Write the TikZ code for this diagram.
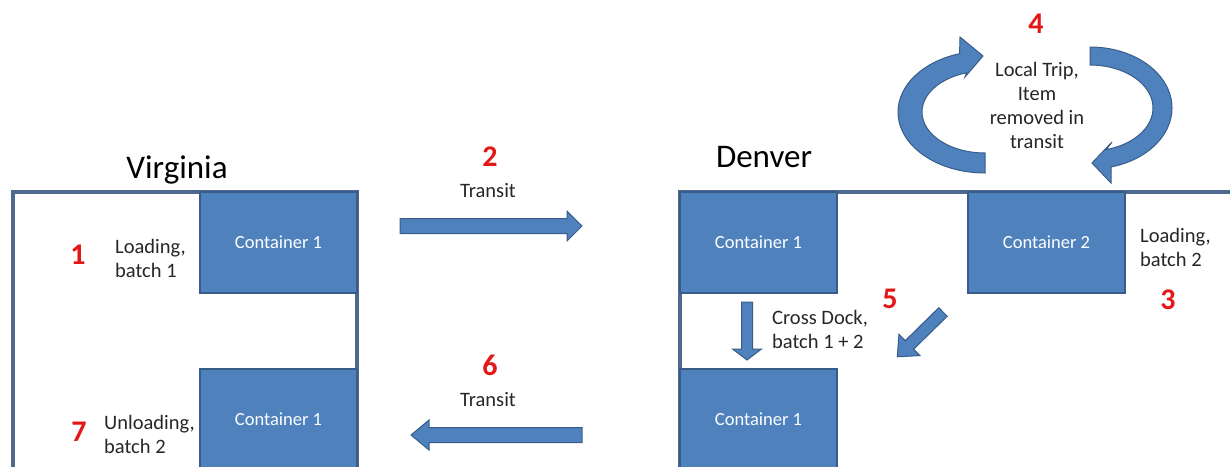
\documentclass[tikz,border=0pt]{standalone}
\usepackage{fontspec}
\setmainfont{Carlito}
\usetikzlibrary{calc}
\definecolor{boxblue}{RGB}{79,129,189}
\definecolor{boxedge}{RGB}{56,93,138}
\definecolor{wallc}{RGB}{78,106,145}
\definecolor{numred}{RGB}{228,22,22}
\definecolor{txt}{RGB}{38,38,38}
\newcommand{\blockarr}[7]{%
  \begin{scope}[shift={(#1,#2)},rotate=#3]
    \filldraw[barrow] (0,-#5) -- ({#4-#7},-#5) -- ({#4-#7},-#6) -- (#4,0)
      -- ({#4-#7},#6) -- ({#4-#7},#5) -- (0,#5) -- cycle;
  \end{scope}}
\begin{document}
\begin{tikzpicture}[x=1pt,y=-1pt,
  container/.style={draw=boxedge, line width=1.5pt, fill=boxblue, text=white,
    minimum width=157pt, minimum height=101pt, inner sep=0pt,
    font=\fontsize{18.5}{22}\selectfont},
  wall/.style={draw=wallc, line width=3.5pt},
  lbl/.style={text=txt, font=\fontsize{20.5}{24}\selectfont, align=left, inner sep=0pt},
  num/.style={text=numred, font=\bfseries\fontsize{30}{32}\selectfont, inner sep=0pt},
  title/.style={text=black, font=\fontsize{33}{36}\selectfont, inner sep=0pt},
  barrow/.style={fill=boxblue, draw=boxedge, line width=1pt, line join=miter}]
\useasboundingbox (0,0) rectangle (1230,466);
\clip (0,0) rectangle (1230,466);

% titles
\node[title, anchor=base] (virginia) at (177,178) {Virginia};
\node[title, anchor=base] (denver) at (764,167) {Denver};

% walls
\draw[wall] (13,480) -- (13,192) -- (357,192) -- (357,480);
\draw[wall] (680,480) -- (680,192) -- (1240,192);

% containers
\node[container] (vc1) at (278.5,242.5) {Container 1};
\node[container] (vc2) at (278.5,419.5) {Container 1};
\node[container] (dc1) at (758.5,242.5) {Container 1};
\node[container] (dc3) at (758.5,419.5) {Container 1};
\node[container] (dc2) at (1046.5,242.5) {Container 2};

% labels (base anchor of a multi-line node = baseline of its last line)
\node[num, anchor=base] (n1) at (78,264) {1};
\node[lbl, anchor=base west] (l1) at (115,277) {Loading,\\batch 1};
\node[num, anchor=base] (n7) at (79,441) {7};
\node[lbl, anchor=base west] (l7) at (104,453) {Unloading,\\batch 2};
\node[num, anchor=base] (n2) at (490,166) {2};
\node[lbl, anchor=base] (t2) at (488,197) {Transit};
\node[num, anchor=base] (n6) at (490,375) {6};
\node[lbl, anchor=base] (t6) at (488,406) {Transit};
\node[num, anchor=base] (n4) at (1036,33) {4};
\node[lbl, align=center, anchor=base] (local) at (1037,148) {Local Trip,\\Item\\removed in\\transit};
\node[lbl, anchor=base west] (l3) at (1140,266) {Loading,\\batch 2};
\node[num, anchor=base] (n3) at (1168,309) {3};
\node[num, anchor=base] (n5) at (890,308) {5};
\node[lbl, anchor=base west] (cd) at (772,348) {Cross Dock,\\batch 1 + 2};

% straight block arrows
\blockarr{400}{226}{0}{182}{7.5}{15}{15}
\blockarr{582}{435}{180}{171}{7.5}{15}{18}
\blockarr{747}{302}{-90}{58}{5.5}{14.5}{11}
\blockarr{943}{312}{-135.6}{64}{6}{15}{17}

% circular arrows
\coordinate (cl) at (985,112);
\filldraw[barrow] ($(cl)+(90:87 and 61)$)
  arc[start angle=90, end angle=253, x radius=87, y radius=61]
  -- (960,37) -- (983,56) -- (965,77)
  -- ($(cl)+(253:63 and 41)$)
  arc[start angle=253, end angle=90, x radius=63, y radius=41] -- cycle;
\coordinate (cr) at (1090,108);
\filldraw[barrow] ($(cr)+(270:82 and 61)$)
  arc[start angle=270, end angle=435, x radius=82, y radius=61]
  -- (1111,183) -- (1092,163) -- (1112,142)
  -- ($(cr)+(435:63 and 43)$)
  arc[start angle=435, end angle=270, x radius=63, y radius=43] -- cycle;
\end{tikzpicture}
\end{document}
